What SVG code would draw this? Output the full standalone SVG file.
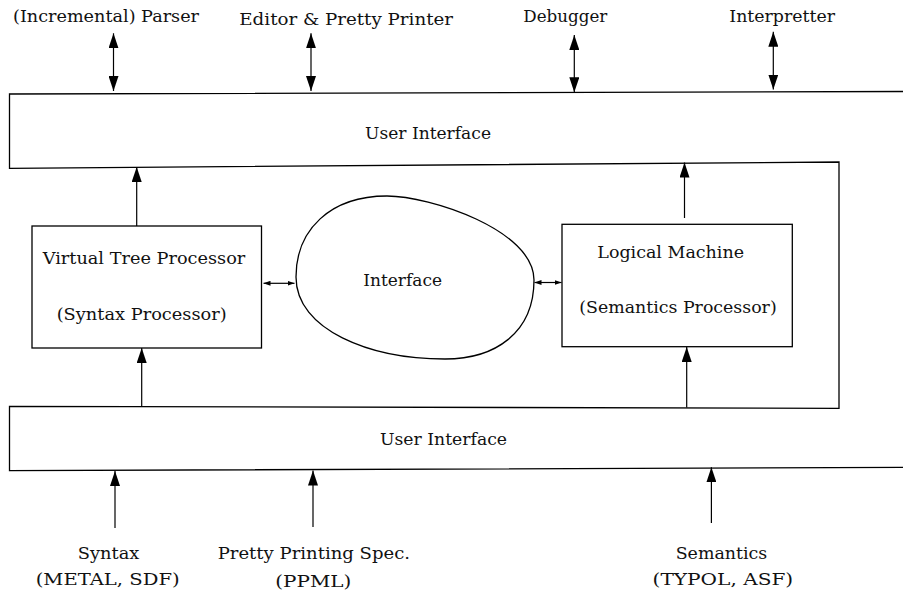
<svg xmlns="http://www.w3.org/2000/svg" width="903" height="593" viewBox="0 0 903 593">
  <style>
    .bg { fill: #ffffff; }
    .outline { fill: none; stroke: #000000; stroke-width: 1.3; }
    .box { fill: #ffffff; stroke: #000000; stroke-width: 1.3; }
    .conn { fill: none; stroke: #000000; stroke-width: 1.2; }
    .big { marker-end: url(#head); }
    .both { marker-start: url(#head); marker-end: url(#head); }
    .small { marker-start: url(#tiny); marker-end: url(#tiny); }
  </style>
  <defs>
    <marker id="head" markerUnits="userSpaceOnUse" markerWidth="15" markerHeight="10" refX="15" refY="5" orient="auto-start-reverse">
      <path d="M0,0 L15,5 L0,10 z" fill="#000000"/>
    </marker>
    <marker id="tiny" markerUnits="userSpaceOnUse" markerWidth="7" markerHeight="5" refX="7" refY="2.5" orient="auto-start-reverse">
      <path d="M0,0 L7,2.5 L0,5 z" fill="#000000"/>
    </marker>
  </defs>

  <rect class="bg" x="0" y="0" width="903" height="593"/>

  <g font-family="DejaVu Serif, Liberation Serif, serif" font-size="17" fill="#111111">
    <!-- shared user-interface frame: upper band, right wall, lower band -->
    <g id="user-interface">
      <path class="outline" d="M903,91.5 L9.5,94 L9.5,168.3 L839,162 L839,408.3 L9.5,406.3 L9.5,470.7 L903,467.3"/>
      <text x="365" y="138.5" textLength="126" lengthAdjust="spacingAndGlyphs">User Interface</text>
      <text x="380" y="444.5" textLength="127" lengthAdjust="spacingAndGlyphs">User Interface</text>
    </g>

    <g id="virtual-tree-processor">
      <rect class="box" x="32" y="226" width="229.5" height="122"/>
      <text x="42.7" y="263.5" textLength="202.6" lengthAdjust="spacingAndGlyphs">Virtual Tree Processor</text>
      <text x="56.7" y="319.5" textLength="170" lengthAdjust="spacingAndGlyphs">(Syntax Processor)</text>
    </g>

    <g id="interface">
      <path class="outline" d="M296,277 C296,230 330,196 387,196 C430,196 534,230 534,280 C534,333 495,359 445,359 C370,359 296,330 296,277 Z"/>
      <text x="363.3" y="285.7" textLength="78.7" lengthAdjust="spacingAndGlyphs">Interface</text>
    </g>

    <g id="logical-machine">
      <rect class="box" x="562" y="224.3" width="230.3" height="122.4"/>
      <text x="597.3" y="258.3" textLength="146.7" lengthAdjust="spacingAndGlyphs">Logical Machine</text>
      <text x="579.3" y="313.3" textLength="197.4" lengthAdjust="spacingAndGlyphs">(Semantics Processor)</text>
    </g>

    <g id="tools">
      <text x="13" y="22" textLength="186" lengthAdjust="spacingAndGlyphs">(Incremental) Parser</text>
      <text x="239.3" y="24.5" textLength="213.7" lengthAdjust="spacingAndGlyphs">Editor &amp; Pretty Printer</text>
      <text x="523.3" y="22.3" textLength="84" lengthAdjust="spacingAndGlyphs">Debugger</text>
      <text x="729.3" y="22.3" textLength="105.7" lengthAdjust="spacingAndGlyphs">Interpretter</text>
    </g>

    <g id="specifications">
      <text x="77.8" y="559.3" textLength="61.6" lengthAdjust="spacingAndGlyphs">Syntax</text>
      <text x="35.7" y="585" textLength="144" lengthAdjust="spacingAndGlyphs">(METAL, SDF)</text>
      <text x="217.7" y="559.3" textLength="192.3" lengthAdjust="spacingAndGlyphs">Pretty Printing Spec.</text>
      <text x="275.3" y="586.5" textLength="76" lengthAdjust="spacingAndGlyphs">(PPML)</text>
      <text x="675.7" y="559.3" textLength="91.6" lengthAdjust="spacingAndGlyphs">Semantics</text>
      <text x="652.6" y="585" textLength="140.6" lengthAdjust="spacingAndGlyphs">(TYPOL, ASF)</text>
    </g>
  </g>

  <g id="connectors">
    <!-- tools <-> upper user interface -->
    <path class="conn both" d="M113.5,91 L113.5,33.3"/>
    <path class="conn both" d="M311,91 L311,33.3"/>
    <path class="conn both" d="M574.3,92.3 L574.3,35"/>
    <path class="conn both" d="M773.3,89.5 L773.3,31.7"/>
    <!-- processors -> upper user interface -->
    <path class="conn big" d="M136.7,226 L136.7,167"/>
    <path class="conn big" d="M684.5,218 L684.5,162.5"/>
    <!-- lower user interface -> processors -->
    <path class="conn big" d="M141.7,407 L141.7,348"/>
    <path class="conn big" d="M686.7,407.5 L686.7,347"/>
    <!-- processors <-> interface -->
    <path class="conn small" d="M263.5,283.3 L294.5,283.3"/>
    <path class="conn small" d="M534.5,282.5 L561.5,282.5"/>
    <!-- specifications -> lower user interface -->
    <path class="conn big" d="M115,528 L115,471"/>
    <path class="conn big" d="M313,527 L313,470.5"/>
    <path class="conn big" d="M711.4,523 L711.4,467.3"/>
  </g>
</svg>
